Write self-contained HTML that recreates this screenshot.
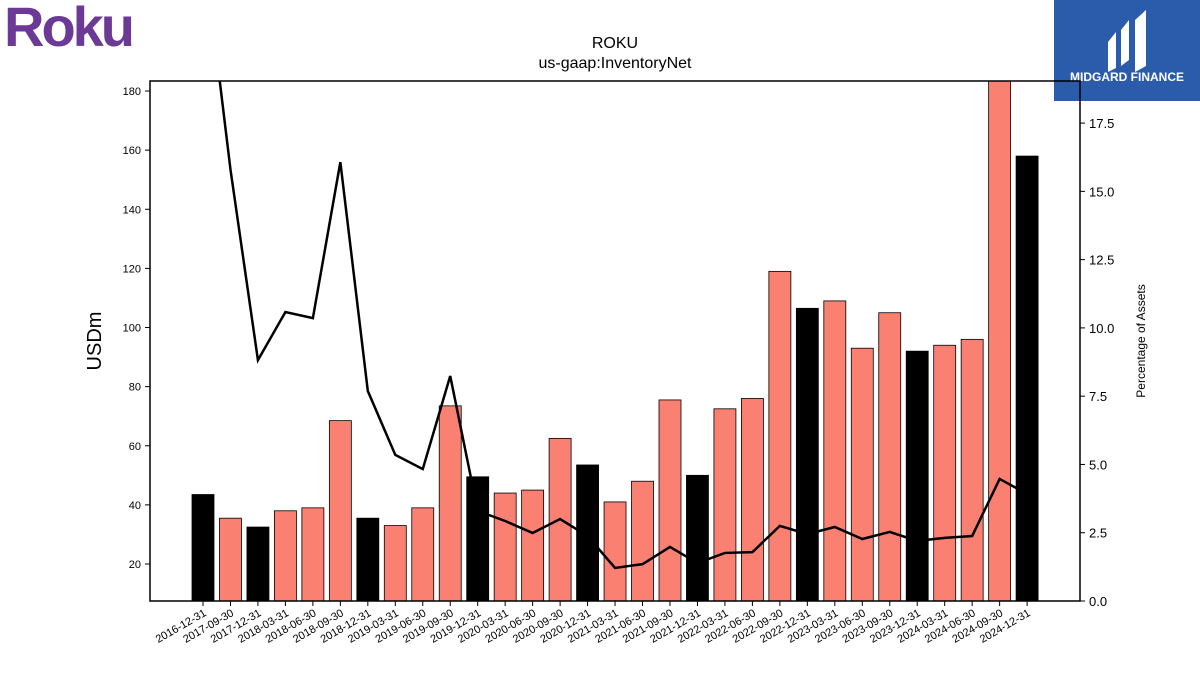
<!DOCTYPE html>
<html><head><meta charset="utf-8"><style>
body{margin:0;width:1200px;height:675px;overflow:hidden;background:#fff;font-family:"Liberation Sans",sans-serif}
svg{display:block}
</style></head><body>
<svg id="chart" width="1200" height="675" viewBox="0 0 1200 675">
<text x="4" y="46" font-family="Liberation Sans, sans-serif" font-weight="bold" font-size="56" fill="#6c3a96" letter-spacing="-3">Roku</text>
<g>
<rect x="1054" y="0" width="146" height="101" fill="#2b5cab"/>
<path d="M1108 42 L1116 32 L1116 68 L1108 72 Z M1121 30 L1129 20 L1129 60 L1121 66 Z M1135 20 L1146 10 L1146 66 L1135 72 Z" fill="#fff"/>
<text x="1127" y="81" text-anchor="middle" font-size="12" font-weight="bold" fill="#fff">MIDGARD FINANCE</text>
</g>
<text x="615" y="48" text-anchor="middle" font-size="16">ROKU</text>
<text x="615" y="68" text-anchor="middle" font-size="16">us-gaap:InventoryNet</text>
<g id="bars"></g><g id="line"></g><g id="axes"></g>
<rect x="150" y="81" width="930" height="520" fill="none" stroke="#000" stroke-width="1.5"/>
<text transform="translate(101,341) rotate(-90)" text-anchor="middle" font-size="20">USDm</text>
<text transform="translate(1145,341) rotate(-90)" text-anchor="middle" font-size="12">Percentage of Assets</text>
</svg>
<script>
const categories=["2016-12-31","2017-09-30","2017-12-31","2018-03-31","2018-06-30","2018-09-30","2018-12-31","2019-03-31","2019-06-30","2019-09-30","2019-12-31","2020-03-31","2020-06-30","2020-09-30","2020-12-31","2021-03-31","2021-06-30","2021-09-30","2021-12-31","2022-03-31","2022-06-30","2022-09-30","2022-12-31","2023-03-31","2023-06-30","2023-09-30","2023-12-31","2024-03-31","2024-06-30","2024-09-30","2024-12-31"];
const inventory=[43.5,35.5,32.5,38,39,68.5,35.5,33,39,73.5,49.5,44,45,62.5,53.5,41,48,75.5,50,72.5,76,119,106.5,109,93,105,92,94,96,190,158];
const pctAssets=[24.1,15.8,8.82,10.58,10.36,16.07,7.69,5.35,4.83,8.24,3.3,2.93,2.49,3.0,2.38,1.21,1.35,1.98,1.39,1.76,1.79,2.75,2.45,2.71,2.27,2.53,2.2,2.31,2.38,4.47,3.92];
const leftTicks=[20,40,60,80,100,120,140,160,180];
const rightTicks=["0.0","2.5","5.0","7.5","10.0","12.5","15.0","17.5"];
const NS="http://www.w3.org/2000/svg";
const L=150,R=1080,T=81,B=601;
const x=i=>203+i*27.47;
const y=v=>564-(v-20)*2.956;
const y2=v=>601-v*27.31;
function mk(tag,attrs,parent,txt){const e=document.createElementNS(NS,tag);for(const k in attrs)e.setAttribute(k,attrs[k]);if(txt!==undefined)e.textContent=txt;parent.appendChild(e);return e;}
const clip=mk('clipPath',{id:'pc'},document.getElementById('chart'));
mk('rect',{x:L,y:T,width:R-L,height:B-T},clip);
const bars=document.getElementById('bars');bars.setAttribute('clip-path','url(#pc)');
const line=document.getElementById('line');line.setAttribute('clip-path','url(#pc)');
const axes=document.getElementById('axes');
inventory.forEach((v,i)=>{
  const ye=categories[i].endsWith('12-31');
  const r=mk('rect',{x:x(i)-11,y:y(v),width:22,height:B-y(v),fill:ye?'#000':'#fa8072',stroke:'#000','stroke-width':0.8},bars);
  
  
});
const pts=pctAssets.map((v,i)=>x(i)+','+y2(v)).join(' ');
const pl=mk('polyline',{points:pts,fill:'none',stroke:'#000','stroke-width':2.5},line);


leftTicks.forEach(t=>{
  mk('line',{x1:L-5,x2:L,y1:y(t),y2:y(t),stroke:'#000'},axes);
  const e=mk('text',{x:L-9,y:y(t)+4,'text-anchor':'end','font-size':11},axes,t);
  
  
});
rightTicks.forEach(t=>{
  const v=parseFloat(t);
  mk('line',{x1:R,x2:R+5,y1:y2(v),y2:y2(v),stroke:'#000'},axes);
  const e=mk('text',{x:R+9,y:y2(v)+5,'font-size':13},axes,t);
  
  
});
categories.forEach((c,i)=>{
  mk('line',{x1:x(i),x2:x(i),y1:B,y2:B+5,stroke:'#000'},axes);
  const e=mk('text',{transform:`translate(${x(i)+4},${B+14}) rotate(-30)`,'text-anchor':'end','font-size':11},axes,c);
  
  
});
</script>
</body></html>
